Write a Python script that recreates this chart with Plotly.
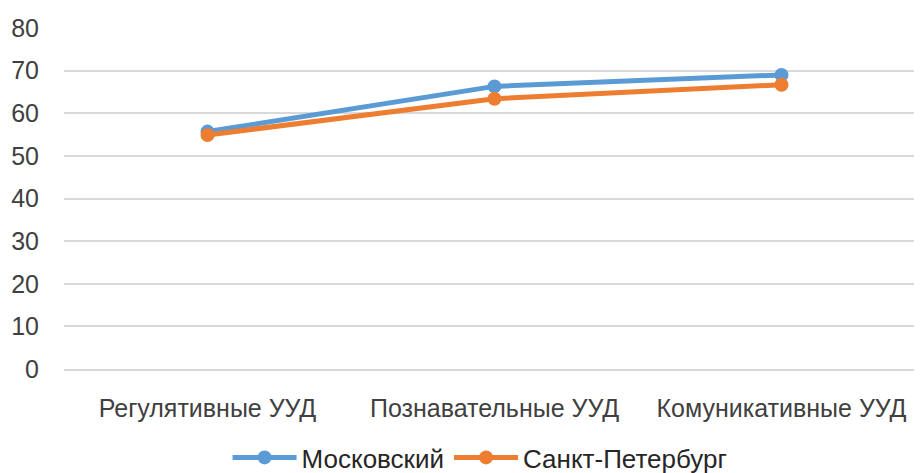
import plotly.graph_objects as go

categories = ["Регулятивные УУД", "Познавательные УУД", "Комуникативные УУД"]
moscow = [55.7, 66.3, 69.0]
spb = [54.9, 63.4, 66.7]
y_ticks = [0, 10, 20, 30, 40, 50, 60, 70, 80]

FONT = "Liberation Sans"

fig = go.Figure()
fig.add_trace(go.Scatter(
    x=categories, y=moscow, name="Московский", mode="lines+markers",
    line=dict(color="#5B9BD5", width=5), marker=dict(size=14, color="#5B9BD5"),
))
fig.add_trace(go.Scatter(
    x=categories, y=spb, name="Санкт-Петербург", mode="lines+markers",
    line=dict(color="#ED7D31", width=5), marker=dict(size=14, color="#ED7D31"),
))

fig.update_layout(
    width=922, height=473,
    margin=dict(l=56, r=5, t=20, b=112, autoexpand=False),
    paper_bgcolor="white", plot_bgcolor="white",
    font=dict(family=FONT, size=25, color="#262626"),
    showlegend=True,
    legend=dict(orientation="h", x=0.512, xanchor="center", xref="container",
                y=-0.006, yanchor="bottom", yref="container",
                font=dict(size=26, color="#262626"), itemwidth=64,
                tracegroupgap=0),
    xaxis=dict(
        type="category", range=[-0.5, 2.5], showgrid=False, automargin=False,
        showline=True, linecolor="#D9D9D9", linewidth=1.5,
        ticks="", ticklabelstandoff=16,
        tickfont=dict(size=25, color="#404040"),
    ),
    yaxis=dict(
        range=[0, 80], tickvals=y_ticks, showgrid=True, gridcolor="#D9D9D9",
        gridwidth=1.5, zeroline=False, showline=False, ticks="", automargin=False,
        ticklabelstandoff=24, tickfont=dict(size=25, color="#404040"),
    ),
)

fig.write_html("out.html")
